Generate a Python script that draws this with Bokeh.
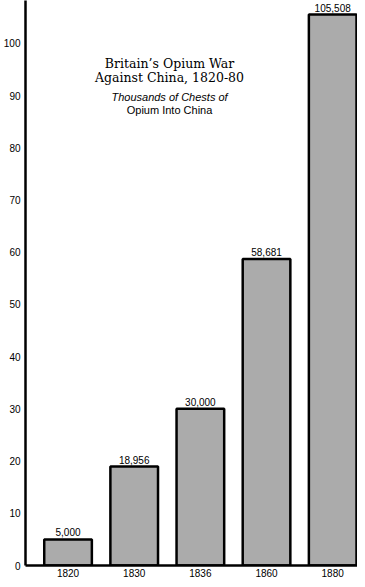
from bokeh.plotting import figure
from bokeh.models import ColumnDataSource, FixedTicker, Label
from bokeh.core.properties import value
from bokeh.embed import file_html
from bokeh.resources import INLINE

# ---- data ----
years = ["1820", "1830", "1836", "1860", "1880"]
chests_thousands = [5.000, 18.956, 30.000, 58.681, 105.508]
value_labels = ["5,000", "18,956", "30,000", "58,681", "105,508"]
y_ticks = [0, 10, 20, 30, 40, 50, 60, 70, 80, 90, 100]
title_lines = ["Britain\u2019s Opium War", "Against China, 1820-80"]
subtitle_lines = ["Thousands of Chests of", "Opium Into China"]

xs = list(range(len(years)))
src = ColumnDataSource(dict(x=xs, top=chests_thousands, label=value_labels))

p = figure(width=357, height=579, output_backend="svg", toolbar_location=None,
           x_range=(-0.643, 4.375), y_range=(0, 108.2),
           min_border_left=25, min_border_right=0, min_border_top=0, min_border_bottom=14)
p.outline_line_color = None
p.background_fill_color = "white"
p.xgrid.visible = False
p.ygrid.visible = False

p.vbar(x="x", top="top", width=0.72, source=src,
       fill_color="#ababab", line_color="black", line_width=2.5)

p.text(x="x", y="top", text="label", source=src, text_align="center",
       text_baseline="bottom", y_offset=-3, text_font=value("Liberation Sans"),
       text_font_size="10px", text_color="black")

# axes
for ax in (p.xaxis, p.yaxis):
    ax.axis_line_width = 2.5
    ax.axis_line_color = "black"
    ax.major_tick_line_color = None
    ax.minor_tick_line_color = None
    ax.major_tick_out = 0
    ax.major_tick_in = 0
    ax.minor_tick_out = 0
    ax.minor_tick_in = 0
    ax.major_label_text_font = "Liberation Sans"
    ax.major_label_text_font_size = "10px"
    ax.major_label_text_color = "black"

p.yaxis.ticker = FixedTicker(ticks=y_ticks)
p.yaxis.major_label_standoff = 5
p.xaxis.ticker = FixedTicker(ticks=xs)
p.xaxis.major_label_overrides = {i: y for i, y in zip(xs, years)}
p.xaxis.major_label_standoff = 3

# title block
for txt, yv in zip(title_lines, [96.2, 93.5]):
    p.add_layout(Label(x=1.534, y=yv, text=txt, text_align="center", text_baseline="middle",
                       text_font="DejaVu Serif", text_font_size="12.5px", text_color="black"))
p.add_layout(Label(x=1.534, y=89.8, text=subtitle_lines[0], text_align="center",
                   text_baseline="middle", text_font="Liberation Sans",
                   text_font_style="italic", text_font_size="11px", text_color="black"))
p.add_layout(Label(x=1.534, y=87.2, text=subtitle_lines[1], text_align="center",
                   text_baseline="middle", text_font="Liberation Sans",
                   text_font_size="11px", text_color="black"))

open("out.html", "w").write(file_html(p, INLINE))
